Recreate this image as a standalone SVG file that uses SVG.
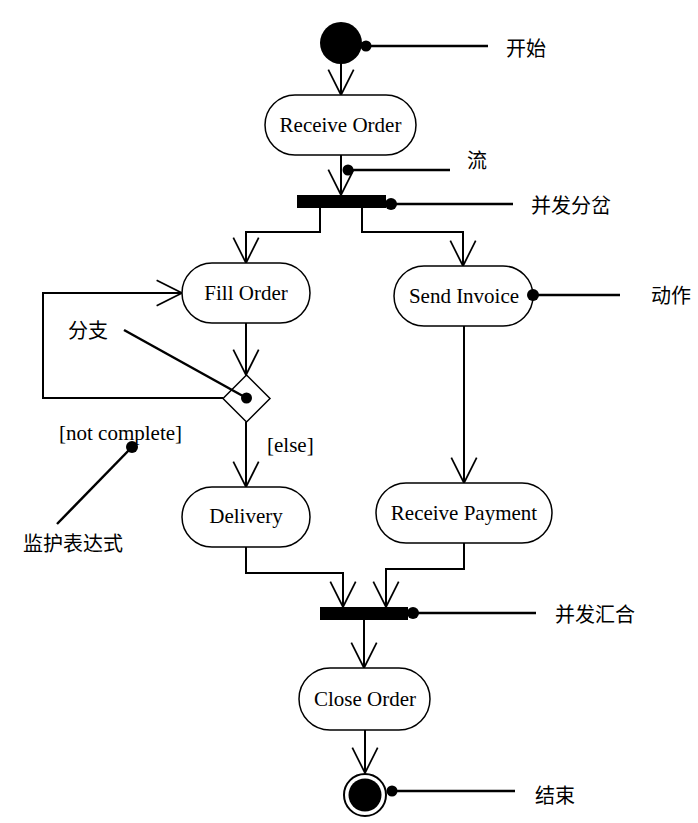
<svg xmlns="http://www.w3.org/2000/svg" width="698" height="823" viewBox="0 0 698 823">
<style>
.node{fill:#fff;stroke:#000;stroke-width:1.5}
.lbl{font-family:"Liberation Serif","Noto Sans CJK SC",serif;font-size:21px;fill:#000}
.cn{font-family:"Liberation Serif","Noto Sans CJK SC",serif;font-size:20px;fill:#000}
.flow{fill:none;stroke:#000;stroke-width:2;marker-end:url(#arr)}
.note{fill:none;stroke:#000;stroke-width:2.5}
.dot{fill:#000}
</style>
<defs>
<marker id="arr" markerUnits="userSpaceOnUse" markerWidth="30" markerHeight="30" viewBox="-24 -13 26 26" refX="0" refY="0" orient="auto">
<path d="M-22,-11 L0,0 L-22,11" fill="none" stroke="#000" stroke-width="1.5"/>
</marker>
</defs>
<rect width="698" height="823" fill="#fff"/>
<g id="connectors">
<path class="flow" d="M341,64 V95"/>
<path class="flow" d="M341,155 V195"/>
<path class="flow" d="M320,208 V232 H246 V263"/>
<path class="flow" d="M362,208 V232 H463 V266"/>
<path class="flow" d="M246,323 V375"/>
<path class="flow" d="M223,398 H43 V293 H182"/>
<path class="flow" d="M246,422 V487"/>
<path class="flow" d="M464,326 V483"/>
<path class="flow" d="M246,547 V573 H343 V607"/>
<path class="flow" d="M464,543 V569 H386 V607"/>
<path class="flow" d="M364,620 V668"/>
<path class="flow" d="M365,730 V773"/>
</g>
<g id="start">
<circle cx="341" cy="43" r="21" fill="#000"/>
</g>
<g id="receive-order">
<rect class="node" x="265" y="95" width="151" height="60" rx="30"/>
<text class="lbl" x="340.5" y="132" text-anchor="middle">Receive Order</text>
</g>
<g id="fork">
<rect x="297" y="195" width="89" height="13" fill="#000"/>
</g>
<g id="fill-order">
<rect class="node" x="182" y="263" width="128" height="60" rx="30"/>
<text class="lbl" x="246" y="300" text-anchor="middle">Fill Order</text>
</g>
<g id="send-invoice">
<rect class="node" x="394" y="266" width="139" height="60" rx="30"/>
<text class="lbl" x="464" y="303" text-anchor="middle">Send Invoice</text>
</g>
<g id="decision">
<path class="node" d="M246.5,375 L270,398.5 L246.5,422 L223,398.5 Z" stroke-width="2"/>
</g>
<g id="delivery">
<rect class="node" x="182" y="487" width="128" height="60" rx="30"/>
<text class="lbl" x="246" y="523" text-anchor="middle">Delivery</text>
</g>
<g id="receive-payment">
<rect class="node" x="376" y="483" width="176" height="60" rx="30"/>
<text class="lbl" x="464" y="520" text-anchor="middle">Receive Payment</text>
</g>
<g id="join">
<rect x="320" y="607" width="88" height="13" fill="#000"/>
</g>
<g id="close-order">
<rect class="node" x="299" y="668" width="131" height="62" rx="31"/>
<text class="lbl" x="365" y="706" text-anchor="middle">Close Order</text>
</g>
<g id="end">
<circle cx="365" cy="795" r="21" fill="#fff" stroke="#000" stroke-width="2"/>
<circle cx="365" cy="795" r="16.5" fill="#000"/>
</g>
<g id="guards">
<text class="lbl" x="267" y="452">[else]</text>
<text class="lbl" x="59" y="440">[not complete]</text>
</g>
<g id="annotations">
<circle class="dot" cx="366" cy="46" r="5.5"/>
<path class="note" d="M366,46 H488"/>
<text class="cn" x="506" y="56">开始</text>
<circle class="dot" cx="348" cy="170" r="5.5"/>
<path class="note" d="M348,170 H450"/>
<text class="cn" x="467" y="168">流</text>
<circle class="dot" cx="391" cy="204" r="6"/>
<path class="note" d="M391,204 H513"/>
<text class="cn" x="531" y="213">并发分岔</text>
<circle class="dot" cx="533" cy="295" r="6"/>
<path class="note" d="M533,295 H620"/>
<text class="cn" x="651" y="303">动作</text>
<circle class="dot" cx="246.5" cy="398" r="5.5"/>
<path class="note" d="M246.5,398 L124,330" stroke-width="2"/>
<text class="cn" x="68" y="338">分支</text>
<circle class="dot" cx="132" cy="447" r="6"/>
<path class="note" d="M132,447 L57,524" stroke-width="2"/>
<text class="cn" x="23" y="551">监护表达式</text>
<circle class="dot" cx="413" cy="613" r="6"/>
<path class="note" d="M413,613 H536"/>
<text class="cn" x="555" y="622">并发汇合</text>
<circle class="dot" cx="392" cy="791" r="5.5"/>
<path class="note" d="M392,791 H515"/>
<text class="cn" x="535" y="803">结束</text>
</g>
</svg>
